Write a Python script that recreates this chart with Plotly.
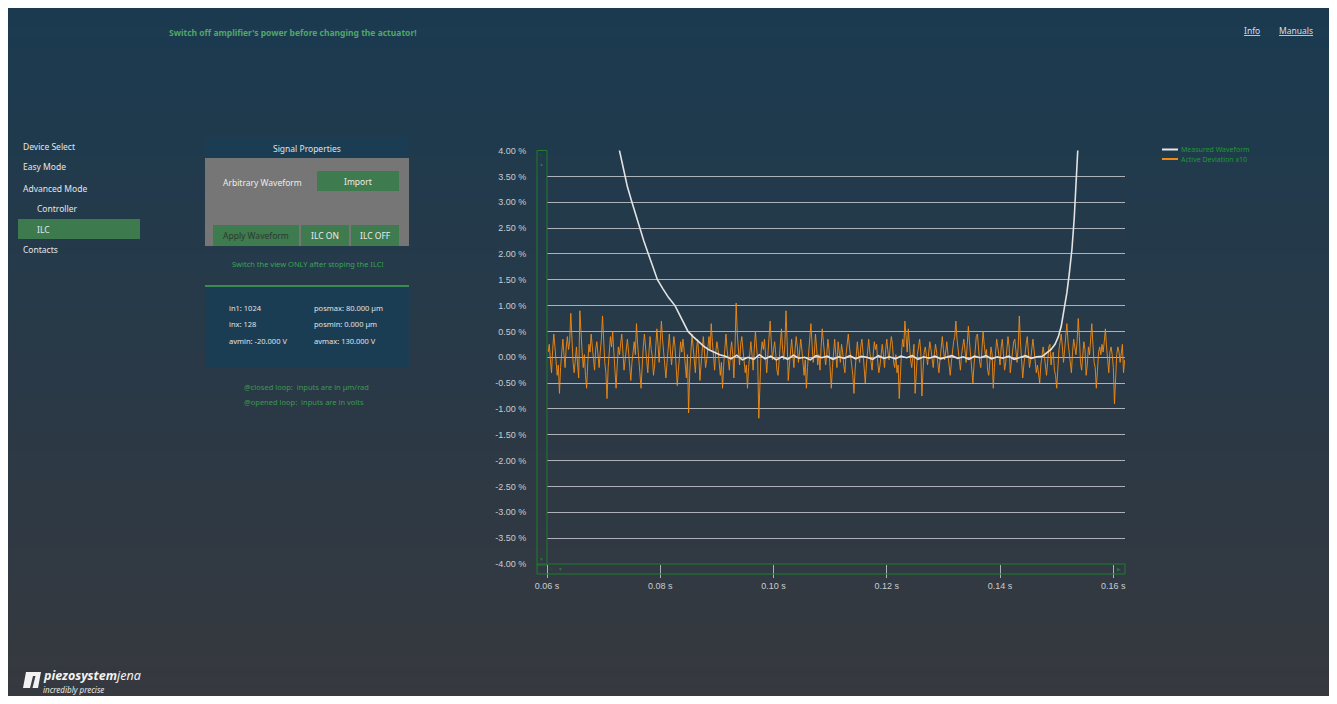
import plotly.graph_objects as go

# ---------------- data ----------------
x_tickvals = [0.06, 0.08, 0.10, 0.12, 0.14, 0.16]
x_ticktext = ["0.06 s", "0.08 s", "0.10 s", "0.12 s", "0.14 s", "0.16 s"]
y_tickvals = [4.0, 3.5, 3.0, 2.5, 2.0, 1.5, 1.0, 0.5, 0.0, -0.5, -1.0, -1.5, -2.0, -2.5, -3.0, -3.5, -4.0]
y_ticktext = ["%.2f %%" % v for v in y_tickvals]

# Measured Waveform (white)
t_meas = [0.0720, 0.0728, 0.0735, 0.0742, 0.0750, 0.0757, 0.0763, 0.0771, 0.0779, 0.0787,
          0.0795, 0.0805, 0.0815, 0.0826, 0.0836, 0.0849, 0.0858, 0.0867, 0.0876, 0.0885,
          0.0894, 0.0905,
          0.0915, 0.0925, 0.0935, 0.0945, 0.0955, 0.0965, 0.0975, 0.0985, 0.0995, 0.1005,
          0.1015, 0.1025, 0.1035, 0.1045, 0.1055, 0.1065, 0.1075, 0.1085, 0.1095, 0.1105,
          0.1115, 0.1125, 0.1135, 0.1145, 0.1155, 0.1165, 0.1175, 0.1185, 0.1195, 0.1205,
          0.1215, 0.1225, 0.1235, 0.1245, 0.1255, 0.1265, 0.1275, 0.1285, 0.1295, 0.1305,
          0.1315, 0.1325, 0.1335, 0.1345, 0.1355, 0.1365, 0.1375, 0.1385, 0.1395, 0.1405,
          0.1415, 0.1425, 0.1435, 0.1445, 0.1455, 0.1465, 0.1475,
          0.1483, 0.1490, 0.1497, 0.1503, 0.1508, 0.1513, 0.1518, 0.1522, 0.1527, 0.1531,
          0.1534, 0.1537, 0.1540]
y_meas = [4.60, 4.00, 3.65, 3.30, 3.00, 2.75, 2.50, 2.25, 2.00, 1.75,
          1.50, 1.32, 1.15, 1.00, 0.78, 0.50, 0.40, 0.30, 0.22, 0.15,
          0.10, 0.05,
          0.02, -0.03, 0.04, -0.05, 0.00, -0.04, 0.05, -0.03, 0.02, -0.05,
          0.01, -0.04, 0.04, -0.02, 0.00, -0.05, 0.03, -0.01, 0.02, -0.04,
          0.01, -0.02, 0.03, -0.03, 0.02, 0.00, -0.04, 0.03, -0.02, 0.01,
          -0.03, 0.02, -0.01, 0.03, -0.04, 0.01, -0.02, 0.02, -0.03, 0.00,
          0.03, -0.02, 0.01, -0.04, 0.02, -0.01, 0.03, -0.03, 0.01, -0.02,
          0.02, -0.04, 0.00, 0.03, -0.02, 0.01, 0.02,
          0.08, 0.15, 0.25, 0.40, 0.60, 0.90, 1.25, 1.60, 2.10, 2.70,
          3.30, 4.00, 4.60]

# Active Deviation x10 (orange), sampled every 0.2 ms from 60.2 ms
dev_t0 = 0.0602
dev_dt = 0.0002
y_dev = [
    0.10, 0.25, -0.05, -0.30, 0.15, 0.45, 0.20, -0.10, -0.35, -0.15,
    -0.70, -0.20, 0.10, 0.35, 0.05, -0.20, 0.20, 0.40, 0.15, 0.30,
    0.85, 0.30, -0.10, -0.30, 0.05, 0.20, -0.15, -0.40, 0.90, 0.35,
    0.10, -0.20, 0.05, -0.35, -0.60, -0.10, 0.25, 0.10, 0.45, 0.20,
    -0.05, -0.25, 0.15, 0.30, 0.05, -0.20, 0.10, 0.35, 0.80, 0.25,
    -0.10, -0.30, -0.80, -0.20, 0.15, 0.40, 0.20, 0.50, 0.10, -0.20,
    -0.60, -0.15, 0.20, 0.05, 0.30, 0.45, 0.10, -0.25, -0.05, 0.20,
    0.35, 0.10, -0.20, -0.45, -0.10, 0.15, 0.30, 0.05, 0.65, 0.25,
    -0.15, -0.30, -0.60, -0.10, 0.20, 0.45, 0.15, -0.05, -0.30, 0.10,
    0.40, 0.15, 0.00, -0.35, -0.15, 0.20, 0.55, 0.25, -0.10, 0.30,
    0.70, 0.35, 0.05, -0.20, -0.40, -0.10, 0.25, 0.45, 0.10, -0.15,
    0.15, 0.40, 0.20, -0.20, -0.55, -0.25, 0.05, 0.30, 0.10, 0.35,
    0.15, -0.20, -0.40, 0.05, -1.08, -0.30, 0.10, 0.45, 0.20, -0.10,
    -0.30, 0.15, 0.35, 0.05, -0.45, -0.15, 0.25, 0.40, 0.10, -0.20,
    -0.05, 0.20, 0.40, 0.15, 0.65, 0.30, -0.05, -0.25, 0.10, 0.30,
    0.15, -0.20, -0.35, -0.10, -0.60, -0.15, 0.20, 0.45, 0.15, -0.05,
    -0.25, 0.10, 0.30, 0.05, -0.40, 0.20, 1.05, 0.45, 0.10, -0.15,
    0.25, 0.40, 0.15, -0.10, -0.30, -0.15, -0.60, -0.20, 0.15, 0.30,
    0.05, -0.25, 0.15, 0.50, 0.20, -0.05, -1.18, -0.40, 0.10, 0.30,
    0.15, 0.35, -0.10, -0.30, 0.05, 0.45, 0.70, 0.30, -0.05, 0.15,
    0.30, 0.05, -0.25, -0.35, -0.10, 0.20, 0.55, 0.15, -0.05, 0.25,
    0.90, 0.30, -0.45, -0.15, 0.20, 0.35, 0.05, -0.20, 0.15, 0.40,
    0.20, -0.10, 0.10, 0.35, 0.15, -0.20, -0.35, -0.05, -0.60, -0.20,
    0.15, 0.30, 0.65, 0.25, -0.10, 0.05, 0.45, 0.20, -0.15, 0.05,
    -0.25, 0.20, 0.55, 0.30, 0.10, -0.15, 0.05, 0.35, 0.15, -0.30,
    -0.60, -0.20, 0.15, 0.35, 0.05, -0.20, 0.30, 0.15, -0.10, 0.25,
    0.10, -0.15, -0.30, 0.05, 0.25, 0.45, 0.20, -0.05, -0.15, -0.35,
    -0.70, -0.25, 0.10, 0.30, 0.05, -0.10, 0.20, 0.35, 0.10, -0.20,
    -0.50, -0.15, 0.20, 0.35, 0.10, -0.05, -0.25, 0.05, 0.30, 0.15,
    0.25, -0.10, -0.30, -0.15, 0.10, 0.25, 0.05, -0.20, 0.15, 0.35,
    0.10, -0.05, 0.20, 0.40, 0.25, -0.10, -0.20, 0.05, -0.30, -0.15,
    -0.80, -0.30, 0.10, 0.35, 0.20, 0.70, 0.40, 0.10, 0.55, 0.20,
    -0.05, -0.20, 0.10, 0.25, -0.70, -0.30, 0.05, 0.20, 0.35, 0.10,
    -0.75, -0.25, 0.10, 0.20, -0.05, -0.15, 0.10, 0.30, 0.15, 0.00,
    -0.20, 0.05, 0.25, 0.10, -0.10, -0.30, -0.05, 0.20, 0.40, 0.15,
    -0.05, 0.10, 0.30, 0.05, -0.20, -0.35, -0.10, 0.15, 0.30, 0.40,
    0.70, 0.35, 0.10, -0.15, -0.25, 0.05, 0.20, 0.35, 0.15, -0.10,
    0.25, 0.60, 0.30, 0.05, -0.20, -0.50, -0.15, 0.20, 0.40, 0.45,
    0.15, -0.10, -0.20, 0.10, 0.50, 0.25, 0.05, 0.15, -0.25, -0.35,
    -0.10, 0.20, 0.05, -0.60, -0.20, 0.10, 0.35, 0.20, -0.05, -0.15,
    0.20, 0.35, 0.05, -0.25, -0.10, 0.15, 0.40, 0.20, -0.30, -0.10,
    0.15, 0.30, 0.35, 0.05, -0.10, 0.20, 0.80, 0.30, -0.10, -0.40,
    -0.15, 0.15, 0.25, 0.40, 0.10, -0.20, -0.05, 0.10, 0.35, 0.15,
    -0.10, -0.30, -0.15, -0.30, -0.50, -0.15, 0.10, 0.20, 0.05, -0.20,
    -0.35, -0.10, 0.20, 0.25, -0.15, 0.05, 0.10, -0.25, -0.35, -0.60,
    -0.20, 0.15, 0.30, 0.45, 0.20, -0.10, 0.15, 0.35, 0.65, 0.30,
    0.05, -0.20, -0.30, 0.10, 0.35, 0.20, 0.05, 0.30, 0.75, 0.40,
    -0.10, -0.25, 0.10, 0.30, 0.15, -0.35, -0.15, 0.20, 0.05, 0.30,
    0.65, 0.25, -0.10, -0.20, -0.60, -0.25, 0.10, 0.20, 0.05, 0.25,
    0.10, 0.30, 0.55, 0.20, -0.05, -0.30, 0.10, 0.20, 0.05, -0.20,
    -0.90, -0.35, 0.05, 0.20, 0.10, -0.10, 0.15, 0.25, -0.30, -0.05,
]
t_dev = [round(dev_t0 + dev_dt * k, 5) for k in range(len(y_dev))]

# ---------------- page geometry helpers ----------------
W, H = 1321, 688
OX, OY = 8, 8
UI = "Noto Sans, Open Sans, sans-serif"
CH = "Liberation Sans, Arial, sans-serif"


def px(X):
    return (X - OX) / W


def py(Y):
    return 1 - (Y - OY) / H


shapes = []
annotations = []


def rect(X0, Y0, X1, Y1, fill, line_color=None, lw=0, layer="below"):
    shapes.append(dict(type="rect", xref="paper", yref="paper",
                       x0=px(X0), x1=px(X1), y0=py(Y1), y1=py(Y0),
                       fillcolor=fill, layer=layer,
                       line=dict(width=lw, color=line_color or "rgba(0,0,0,0)")))


def hline(X0, X1, Y, color, lw=1, layer="below"):
    shapes.append(dict(type="line", xref="paper", yref="paper",
                       x0=px(X0), x1=px(X1), y0=py(Y), y1=py(Y),
                       layer=layer, line=dict(width=lw, color=color)))


def txt(X, Y, s, size=9, color="#e6e6e6", anchor="left", family=UI):
    annotations.append(dict(x=px(X), y=py(Y), xref="paper", yref="paper", text=s,
                            showarrow=False, xanchor=anchor, yanchor="middle",
                            borderpad=0, borderwidth=0,
                            font=dict(size=size, color=color, family=family)))


# background gradient
top = (27, 58, 80)
bot = (54, 57, 63)
N = 70
for i in range(N):
    f = i / (N - 1)
    c = tuple(int(round(top[j] + (bot[j] - top[j]) * f)) for j in range(3))
    shapes.append(dict(type="rect", xref="paper", yref="paper",
                       x0=0, x1=1, y0=1 - (i + 1) / N - 0.001, y1=1 - i / N,
                       fillcolor="rgb(%d,%d,%d)" % c, layer="below", line=dict(width=0)))

# header
txt(169, 33, "<b>Switch off amplifier's power before changing the actuator!</b>", 8.5, "#4fa867")
txt(1244, 30, "<u>Info</u>", 8.5, "#d9dee2")
txt(1279, 30, "<u>Manuals</u>", 8.5, "#d9dee2")

# navigation
rect(18, 219, 140, 239, "#3d7a4e")
txt(23, 146, "Device Select", 8.5)
txt(23, 167, "Easy Mode", 8.5)
txt(23, 188, "Advanced Mode", 8.5)
txt(37, 208, "Controller", 8.5)
txt(37, 229, "ILC", 8.5)
txt(23, 250, "Contacts", 8.5)

# signal properties panel
rect(205, 137, 409, 158, "#1b3d54")
txt(307, 148, "Signal Properties", 8.5, "#e2e2e2", "center")
rect(205, 158, 409, 246, "#767676")
txt(223, 182, "Arbitrary Waveform", 8.5, "#ececec")
rect(317, 171, 399, 191, "#3e7b4f")
txt(358, 181.5, "Import", 8.5, "#ececec", "center")
rect(213, 225, 299, 246, "#3e7b4f")
rect(301, 225, 349, 246, "#3e7b4f")
rect(351, 225, 399, 246, "#3e7b4f")
txt(256, 236, "Apply Waveform", 8.5, "#2b3a2e", "center")
txt(325, 236, "ILC ON", 8.5, "#ececec", "center")
txt(375, 236, "ILC OFF", 8.5, "#ececec", "center")
txt(307, 264, "Switch the view ONLY after stoping the ILC!", 7.5, "#3ea558", "center")
hline(205, 409, 286, "#3b8a4f", 2)
rect(205, 287, 409, 367, "#1a3d53")
txt(229, 308, "in1: 1024", 7.5, "#e2e2e2")
txt(314, 308, "posmax: 80.000 µm", 7.5, "#e2e2e2")
txt(229, 324, "inx: 128", 7.5, "#e2e2e2")
txt(314, 324, "posmin: 0.000 µm", 7.5, "#e2e2e2")
txt(229, 341, "avmin: -20.000 V", 7.5, "#e2e2e2")
txt(314, 341, "avmax: 130.000 V", 7.5, "#e2e2e2")
txt(244, 387, "@closed loop:  inputs are in µm/rad", 7.5, "#3a9a4f")
txt(244, 402, "@opened loop:  inputs are in volts", 7.5, "#3a9a4f")

# logo
shapes.append(dict(type="path", xref="paper", yref="paper", layer="above",
                   path="M %f,%f L %f,%f L %f,%f L %f,%f Z" % (
                       px(23), py(688), px(26), py(672), px(41), py(672), px(38), py(688)),
                   fillcolor="#f2f2f2", line=dict(width=0)))
shapes.append(dict(type="path", xref="paper", yref="paper", layer="above",
                   path="M %f,%f L %f,%f L %f,%f L %f,%f Z" % (
                       px(30), py(688), px(33), py(676), px(35.5), py(676), px(32.5), py(688)),
                   fillcolor="#3a3d44", line=dict(width=0)))
txt(43, 675, "<b><i>piezosystem</i></b><i>jena</i>", 12.5, "#f2f2f2")
txt(43, 689.5, "<i>incredibly precise</i>", 8, "#e8e8e8")

# chart decorations (green frames)
GREEN = "#1f7d2b"
rect(537, 150.5, 547, 565, "rgba(0,0,0,0)", GREEN, 1, "above")
rect(537, 564, 1125, 574, "rgba(0,0,0,0)", GREEN, 1, "above")
txt(541, 155, "○", 6, GREEN, "center")
txt(541, 164, "▲", 5, GREEN, "center")
txt(541, 559, "▼", 5, GREEN, "center")
txt(551, 569, "○", 6, GREEN, "center")
txt(560, 569, "▼", 5, GREEN, "center")
txt(1119, 569, "▶", 5, GREEN, "center")

# legend
hline(1162, 1178, 149.5, "#e6e6e6", 2, "above")
hline(1162, 1178, 159, "#f08a12", 2, "above")
txt(1181, 149.5, "Measured Waveform", 7, "#1e9a2c")
txt(1181, 159, "Active Deviation x10", 7, "#1e9a2c")

# ---------------- figure ----------------
fig = go.Figure()
fig.add_trace(go.Scatter(x=t_dev, y=y_dev, mode="lines", name="Active Deviation x10",
                         line=dict(color="rgba(240,138,18,0.92)", width=1),
                         showlegend=False, hoverinfo="skip"))
fig.add_trace(go.Scatter(x=t_meas, y=y_meas, mode="lines", name="Measured Waveform",
                         line=dict(color="#e2e2e2", width=1.6),
                         showlegend=False, hoverinfo="skip"))

fig.update_layout(
    width=W, height=H,
    margin=dict(l=0, r=0, t=0, b=0),
    paper_bgcolor="rgb(27,58,80)",
    plot_bgcolor="rgba(0,0,0,0)",
    showlegend=False,
    shapes=shapes,
    annotations=annotations,
    xaxis=dict(domain=[px(547), px(1125)], range=[0.06, 0.16206],
               tickvals=x_tickvals, ticktext=x_ticktext,
               showgrid=False, zeroline=False, showline=False,
               ticks="outside", ticklen=13, tickwidth=1, tickcolor="rgba(215,215,215,0.75)",
               tickfont=dict(size=9, color="#c9cdd1", family=CH), automargin=False),
    yaxis=dict(domain=[py(564), py(150.5)], range=[-4.003, 4.003],
               tickvals=y_tickvals, ticktext=y_ticktext,
               showgrid=True, gridcolor="rgba(196,200,204,0.85)", gridwidth=1,
               zeroline=False, showline=False,
               ticks="outside", ticklen=18, tickcolor="rgba(0,0,0,0)",
               tickfont=dict(size=9, color="#c9cdd1", family=CH), automargin=False),
)

fig.write_html("out.html")
